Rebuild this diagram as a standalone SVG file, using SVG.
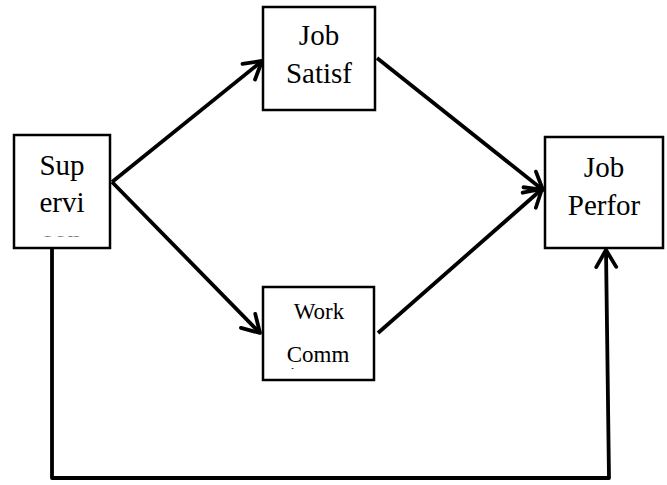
<svg xmlns="http://www.w3.org/2000/svg" width="667" height="485" viewBox="0 0 667 485">
<style>
.box{fill:#fff;stroke:#000;stroke-width:2.5}
.t{font-family:"Liberation Serif","Times New Roman",serif;fill:#000;text-anchor:middle}
.big{font-size:29px}
.small{font-size:23px}
.c{fill:none;stroke:#000;stroke-width:3.8;stroke-linejoin:round}
</style>
<defs>
<marker id="arr" markerUnits="userSpaceOnUse" markerWidth="30" markerHeight="30" refX="0" refY="0" orient="auto" overflow="visible" viewBox="-25 -15 30 30">
<path d="M-17,-10 L0,0 L-17,10" fill="none" stroke="#000" stroke-width="3.8" stroke-linecap="round" stroke-linejoin="round"/>
</marker>
<clipPath id="clipS"><rect x="14" y="135" width="96" height="101.5"/></clipPath>
<clipPath id="clipW"><rect x="263" y="287" width="111" height="82"/></clipPath>
</defs>
<g id="connectors">
<line class="c" x1="112" y1="182" x2="262" y2="61" marker-end="url(#arr)"/>
<line class="c" x1="112" y1="182" x2="260" y2="333" marker-end="url(#arr)"/>
<line class="c" x1="377" y1="58" x2="543" y2="190" marker-end="url(#arr)"/>
<line class="c" x1="378" y1="333" x2="542" y2="189" marker-end="url(#arr)"/>
<polyline class="c" points="52,248 52,478 609,478 606,250" marker-end="url(#arr)"/>
</g>
<g id="supervision">
<rect class="box" x="14" y="135" width="96" height="113"/>
<text class="t big" x="62" y="175">Sup</text>
<text class="t big" x="62" y="212">ervi</text>
<text class="t big" x="62" y="250" clip-path="url(#clipS)">son</text>
</g>
<g id="job-satisfaction">
<rect class="box" x="263" y="7" width="112" height="103"/>
<text class="t big" x="319" y="45">Job</text>
<text class="t big" x="319" y="83">Satisf</text>
</g>
<g id="work-commitment">
<rect class="box" x="263" y="287" width="111" height="93"/>
<text class="t small" x="319" y="319">Work</text>
<text class="t small" x="318" y="362">Comm</text>
<text class="t small" x="319" y="383" clip-path="url(#clipW)">itment</text>
</g>
<g id="job-performance">
<rect class="box" x="545" y="137" width="118" height="111"/>
<text class="t big" x="604" y="177">Job</text>
<text class="t big" x="604" y="215">Perfor</text>
</g>
</svg>
